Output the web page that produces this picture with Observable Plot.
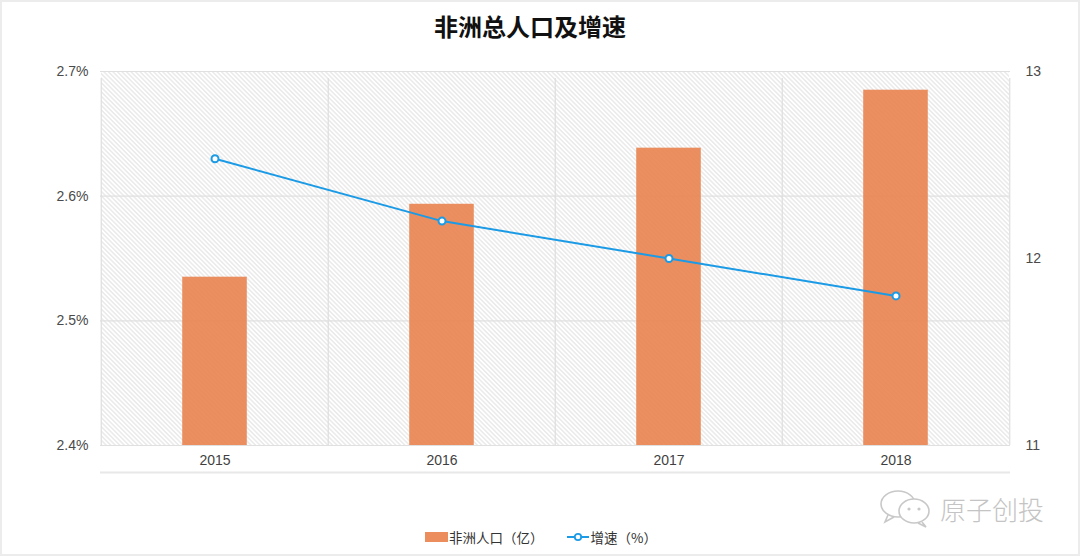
<!DOCTYPE html>
<html><head><meta charset="utf-8">
<script src="https://cdn.jsdelivr.net/npm/d3@7"></script>
<script src="https://cdn.jsdelivr.net/npm/@observablehq/plot@0.6"></script>
<style>
body{margin:0;background:#fff;}
#page{position:relative;width:1080px;height:556px;overflow:hidden;background:#fff;font-family:"Noto Sans CJK SC","Noto Sans",sans-serif;}
#frame{position:absolute;left:0;top:0;width:1080px;height:556px;box-sizing:border-box;border:2px solid #ececec;pointer-events:none;}
#title{position:absolute;top:8px;left:330px;width:400px;text-align:center;font-size:24px;font-weight:700;color:#111;line-height:36px;}
#chart{position:absolute;top:55px;left:0;}
#legend{position:absolute;top:527px;left:425px;display:flex;align-items:center;font-size:13.5px;color:#333;line-height:20px;white-space:nowrap;}
.sw{display:inline-block;width:23px;height:10px;background:#e9834f;opacity:.92;margin-right:1px;}
#wm{position:absolute;left:878px;top:488px;display:flex;align-items:center;color:#c4c4c4;font-size:26px;font-weight:300;white-space:nowrap;}
</style></head>
<body><div id="page">
<div id="title">非洲总人口及增速</div>
<div id="chart"></div>
<div id="wm"><svg width="58" height="40" viewBox="0 0 58 40"><ellipse cx="20" cy="16" rx="17" ry="13" fill="none" stroke="#c8c8c8" stroke-width="1.6"/><path d="M10 27 L7 34 L16 29" fill="none" stroke="#c8c8c8" stroke-width="1.6"/><ellipse cx="36" cy="23" rx="15" ry="12" fill="#fff" stroke="#c8c8c8" stroke-width="1.6"/><circle cx="31" cy="21" r="1.6" fill="#c8c8c8"/><circle cx="41" cy="21" r="1.6" fill="#c8c8c8"/><path d="M44 34 L48 39 L40 35" fill="none" stroke="#c8c8c8" stroke-width="1.6"/></svg><span style="margin-left:4px">原子创投</span></div>
<div id="legend"><span class="sw"></span><span>非洲人口（亿）</span><span style="display:inline-block;width:23px"></span><svg width="22" height="10" style="margin-right:2px"><line x1="0" y1="5" x2="22" y2="5" stroke="#1b9ae6" stroke-width="2"/><circle cx="11" cy="5" r="3.2" fill="#fff" stroke="#1b9ae6" stroke-width="1.8"/></svg><span>增速（%）</span></div>
<div id="frame"></div>
</div>
<script>
const years = ["2015", "2016", "2017", "2018"];
const population = [11.9, 12.29, 12.59, 12.9];   // 非洲人口（亿） - right axis
const growth = [2.63, 2.58, 2.55, 2.52];         // 增速（%） - left axis
const leftTicks = [2.4, 2.5, 2.6, 2.7];
const rightTicks = [11, 12, 13];

const L0 = 2.4, L1 = 2.7, R0 = 11, R1 = 13;
const toLeft = v => L0 + (v - R0) * (L1 - L0) / (R1 - R0);
const fromLeft = y => R0 + (y - L0) * (R1 - R0) / (L1 - L0);

const data = years.map((y, i) => ({year: y, pop: population[i], rate: growth[i]}));

const W = 1080, H = 435, mL = 100, mR = 70;
const band = (W - mL - mR) / years.length;
const barInset = band * 0.357;

const chart = Plot.plot({
  width: W, height: H,
  marginTop: 16, marginBottom: 45, marginLeft: mL, marginRight: mR,
  style: {fontFamily: '"Liberation Sans", Arial, sans-serif', fontSize: "14px", color: "#444", background: "transparent"},
  x: {domain: years, padding: 0, label: null},
  y: {domain: [L0, L1], label: null},
  marks: [
    Plot.barY(years, {x: d => d, y1: L0, y2: L1, fill: "url(#hatch)"}),
    Plot.ruleY(leftTicks, {y: d => d, stroke: "#e0e0e0", strokeWidth: 1.2}),
    Plot.ruleX(years, {x: d => d, y1: L0, y2: L1, dx: -band / 2, stroke: "#dedede", strokeWidth: 1.2, insetBottom: -7}),
    Plot.ruleX(years.slice(-1), {x: d => d, y1: L0, y2: L1, dx: band / 2, stroke: "#dedede", strokeWidth: 1.2, insetBottom: -7}),
    Plot.barY(data, {x: "year", y1: L0, y2: d => toLeft(d.pop), fill: "#e9834f", fillOpacity: 0.9, insetLeft: barInset, insetRight: barInset}),
    Plot.lineY(data, {x: "year", y: "rate", stroke: "#1b9ae6", strokeWidth: 2}),
    Plot.dot(data, {x: "year", y: "rate", r: 3.5, fill: "#fff", stroke: "#1b9ae6", strokeWidth: 2}),
    Plot.ruleY([L0], {y: d => d, dy: 27, stroke: "#e8e8e8", strokeWidth: 2}),
    Plot.axisX({tickSize: 0, tickPadding: 10, fill: "#3f3f3f", label: null}),
    Plot.axisY({anchor: "left", ticks: leftTicks, tickFormat: d => d.toFixed(1) + "%", tickSize: 0, tickPadding: 12, fill: "#4a4a4a", label: null}),
    Plot.axisY({anchor: "right", ticks: rightTicks.map(toLeft), tickFormat: d => fromLeft(d).toFixed(0), tickSize: 0, tickPadding: 15, fill: "#4a4a4a", label: null})
  ]
});

const defs = d3.select(chart).insert("defs", ":first-child");
const p = defs.append("pattern").attr("id", "hatch").attr("patternUnits", "userSpaceOnUse")
  .attr("width", 3.2).attr("height", 3.2).attr("patternTransform", "rotate(-45)");
p.append("rect").attr("width", 3.2).attr("height", 3.2).attr("fill", "#ffffff");
p.append("line").attr("x1", 0.8).attr("y1", 0).attr("x2", 0.8).attr("y2", 3.2).attr("stroke", "#dcdcdc").attr("stroke-width", 0.9);

document.getElementById("chart").appendChild(chart);
</script>
</body></html>
